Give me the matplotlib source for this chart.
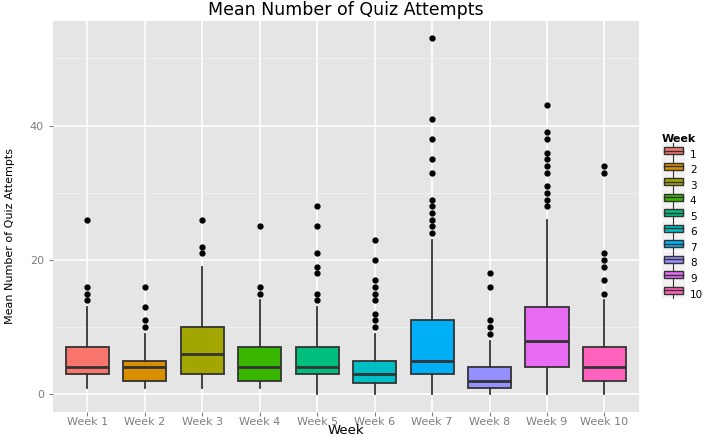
import matplotlib.pyplot as plt
from matplotlib.legend_handler import HandlerBase
from matplotlib.patches import Rectangle
from matplotlib.lines import Line2D

# Resumo dos boxplots por semana
weeks = ['Week 1', 'Week 2', 'Week 3', 'Week 4', 'Week 5',
         'Week 6', 'Week 7', 'Week 8', 'Week 9', 'Week 10']
legend_labels = ['1', '2', '3', '4', '5', '6', '7', '8', '9', '10']
q1 = [3, 2, 3, 2, 3, 1.75, 3, 1, 4, 2]
med = [4, 4, 6, 4, 4, 3, 5, 2, 8, 4]
q3 = [7, 5, 10, 7, 7, 5, 11, 4, 13, 7]
whislo = [1, 1, 1, 1, 0, 0, 0, 0, 0, 0]
whishi = [13, 9, 19, 14, 13, 9, 23, 8, 26, 14]
fliers = [
    [14, 15, 16, 26],
    [10, 11, 13, 16],
    [21, 22, 26],
    [15, 16, 25],
    [14, 15, 18, 19, 21, 25, 28],
    [10, 11, 12, 14, 15, 16, 17, 20, 23],
    [24, 25, 26, 27, 28, 29, 33, 35, 38, 41, 53],
    [9, 10, 11, 16, 18],
    [28, 29, 30, 31, 33, 34, 35, 36, 38, 39, 43],
    [15, 17, 19, 20, 21, 33, 34],
]
colors = ['#F8766D', '#D89000', '#A3A500', '#39B600', '#00BF7D',
          '#00BFC4', '#00B0F6', '#9590FF', '#E76BF3', '#FF62BC']

edge = '#333333'

fig = plt.figure(figsize=(7.06, 4.37), dpi=100)
ax = fig.add_axes([0.075, 0.057, 0.830, 0.896])
ax.set_facecolor('#E5E5E5')

stats = []
for i in range(len(weeks)):
    stats.append(dict(q1=q1[i], med=med[i], q3=q3[i], whislo=whislo[i],
                      whishi=whishi[i], fliers=fliers[i], label=weeks[i]))

bp = ax.bxp(stats, positions=range(1, 11), widths=0.75, patch_artist=True,
            showcaps=False, manage_ticks=False,
            boxprops=dict(edgecolor=edge, linewidth=1.3),
            whiskerprops=dict(color=edge, linewidth=1.3),
            medianprops=dict(color=edge, linewidth=2.0),
            flierprops=dict(marker='o', markerfacecolor='black',
                            markeredgecolor='black', markersize=3.5))
for patch, c in zip(bp['boxes'], colors):
    patch.set_facecolor(c)

ax.set_xlim(0.4, 10.6)
ax.set_ylim(-2.65, 55.65)
ax.set_xticks(range(1, 11))
ax.set_xticklabels(weeks)
ax.set_yticks([0, 20, 40])
ax.set_yticks([10, 30, 50], minor=True)
ax.grid(True, which='major', color='white', linewidth=1.2)
ax.grid(True, which='minor', axis='y', color='#F2F2F2', linewidth=0.6)
ax.set_axisbelow(True)
for s in ax.spines.values():
    s.set_visible(False)
ax.tick_params(axis='both', which='major', colors='#7F7F7F', labelsize=8,
               length=3, width=0.8)
ax.tick_params(axis='both', which='minor', length=0)
ax.tick_params(axis='x', pad=0.5)

ax.set_title('Mean Number of Quiz Attempts', fontsize=12.5, pad=4)
ax.set_xlabel('Week', fontsize=9.5, va='center')
ax.xaxis.set_label_coords(0.5, -0.048)
ax.set_ylabel('Mean Number of Quiz Attempts', fontsize=8)
ax.yaxis.set_label_coords(-0.064, 0.45)


# Chave da legenda no estilo ggplot (caixa com mediana e bigode)
class BoxHandler(HandlerBase):
    def create_artists(self, legend, orig, x0, y0, w, h, fontsize, trans):
        pad = 0.5 * legend.labelspacing * fontsize
        bg = Rectangle((x0, y0 - pad), w, h + 2 * pad, facecolor='#F2F2F2',
                       edgecolor='none', transform=trans)
        vl = Line2D([x0 + w / 2] * 2, [y0 - pad, y0 + h + pad], color=edge,
                    lw=0.8, transform=trans)
        bh = 0.65 * h
        bx = Rectangle((x0 + 1.5, y0 + (h - bh) / 2), w - 3, bh,
                       facecolor=orig.get_facecolor(), edgecolor=edge,
                       lw=1.0, transform=trans)
        ml = Line2D([x0 + 1.5, x0 + w - 1.5], [y0 + h / 2] * 2, color=edge,
                    lw=1.0, transform=trans)
        return [bg, vl, bx, ml]


handles = [Rectangle((0, 0), 1, 1, facecolor=c) for c in colors]
leg = fig.legend(handles, legend_labels, title='Week',
                 handler_map={Rectangle: BoxHandler()},
                 loc='upper left', bbox_to_anchor=(0.93, 0.705),
                 frameon=False, fontsize=7.5, handlelength=2.2,
                 handleheight=1.2, labelspacing=0.45, handletextpad=0.5,
                 borderaxespad=0, borderpad=0.5)
leg.get_title().set_fontweight('bold')
leg.get_title().set_fontsize(8)
leg._legend_box.align = 'left'

fig.savefig('out.png', dpi=100)
